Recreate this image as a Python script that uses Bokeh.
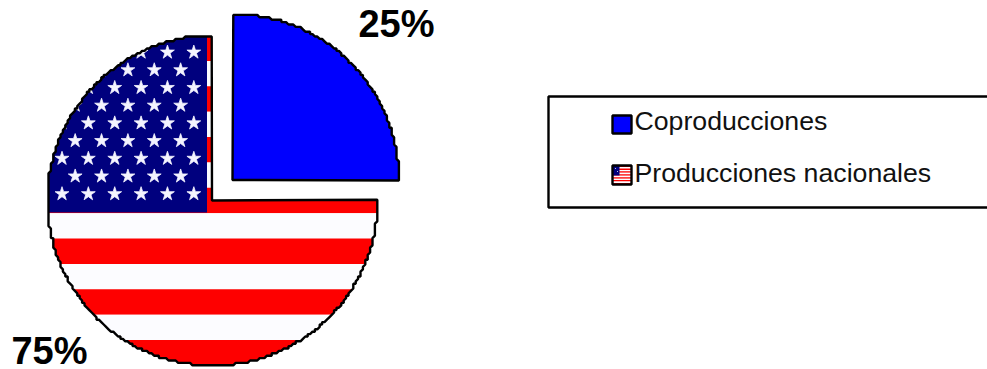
import math
from bokeh.embed import file_html
from bokeh.models import Range1d
from bokeh.plotting import figure
from bokeh.resources import INLINE
from bokeh.core.properties import value

# Chart data
categories = ["Coproducciones", "Producciones nacionales"]
shares = [25, 75]
share_labels = ["25%", "75%"]

# Flag used as the fill of the national slice
stripe_count = 13
star_columns_long = 6
star_columns_short = 5
star_rows = 9

RED = "#fe0000"
WHITE = "#fcfcff"
NAVY = "#00007e"
BLUE = "#0000fe"
FONT = "Liberation Sans"

p = figure(width=987, height=369, output_backend="svg", toolbar_location=None,
           x_range=Range1d(0, 987), y_range=Range1d(369, 0),
           min_border=0, outline_line_color=None, background_fill_color="white")
p.axis.visible = False
p.grid.visible = False


def wedge_outline(cx, cy, r, start_deg, sweep_deg, step=2.4):
    """Slice polygon, with the arc snapped to a coarse grid for its stepped edge."""
    n = max(8, int(abs(sweep_deg) * 1.4))
    pts = [(cx - 0.5, cy)]
    for i in range(n + 1):
        a = math.radians(start_deg + sweep_deg * i / n)
        x = cx + r * math.cos(a)
        y = cy - r * math.sin(a)
        pts.append((round(x / step) * step, round(y / step) * step))
    return [q[0] for q in pts], [q[1] for q in pts]


def draw_flag(x0, y0, x1, y1, canton_x, canton_y, star_size):
    """Stripes, canton and a staggered star field inside the given box."""
    h = (y1 - y0) / stripe_count
    tops = [y0 + i * h for i in range(stripe_count)]
    colors = [RED if i % 2 == 0 else WHITE for i in range(stripe_count)]
    p.quad(left=x0, right=x1, top=tops, bottom=[t + h for t in tops],
           fill_color=colors, line_color=None)
    p.quad(left=[x0], right=[canton_x], top=[y0], bottom=[canton_y],
           fill_color=NAVY, line_color=None)
    if star_size:
        dx = (canton_x - x0) / (star_columns_long + 0.05)
        dy = (canton_y - y0) / (star_rows + 1)
        xs, ys = [], []
        for row in range(star_rows):
            long_row = row % 2 == 0
            cols = star_columns_long if long_row else star_columns_short
            for col in range(cols):
                xs.append(x0 + dx * (col + (0.55 if long_row else 1.05)))
                ys.append(y0 + dy * (row + 0.95))
        p.scatter(xs, ys, marker="star", size=star_size, fill_color="#f4f4ff",
                  line_color="#f4f4ff", line_width=0.8)


# National slice: flag first, then a white mask with a slice-shaped hole over it
national_sweep = 360 * shares[1] / sum(shares)
cx, cy, r = 212, 200, 165
draw_flag(47, 35, 377, 365, 206.5, 212, 14.5)
wx, wy = wedge_outline(cx, cy, r, 90, national_sweep)
mask_x = [36, 390, 390, 36]
mask_y = [25, 25, 369, 369]
p.multi_polygons(xs=[[[mask_x, wx]]], ys=[[[mask_y, wy]]],
                 fill_color="white", line_color=None)
p.patch(wx, wy, fill_color=None, line_color="black", line_width=2.4)

# Exploded slice
co_sweep = 360 * shares[0] / sum(shares)
bx, by = wedge_outline(232.5, 179.5, 166, 0, co_sweep)
p.patch(bx, by, fill_color=BLUE, line_color="black", line_width=2.4)

# Percentage labels
p.text(x=[396, 49], y=[23, 350], text=share_labels, text_align="center",
       text_baseline="alphabetic", text_font=value(FONT), text_font_style="bold",
       text_font_size="38px", text_color="black")

# Legend box runs past the right edge of the page
p.quad(left=[548], right=[1000], top=[96], bottom=[207], fill_color="white",
       line_color="black", line_width=2.4)
p.quad(left=[612], right=[631], top=[115], bottom=[133], fill_color=BLUE,
       line_color="black", line_width=2.4)
draw_flag(612, 165, 631, 184, 619, 175, 0)
p.scatter([615, 617], [168, 171], marker="dot", size=4, line_color="white")
p.quad(left=[612], right=[631], top=[165], bottom=[184], fill_color=None,
       line_color="black", line_width=2.4)
p.text(x=[634, 634], y=[120, 172], text=categories, text_align="left",
       text_baseline="alphabetic", text_font=value(FONT),
       text_font_size="26.7px", text_color="#111111")

open("out.html", "w").write(file_html(p, INLINE))
